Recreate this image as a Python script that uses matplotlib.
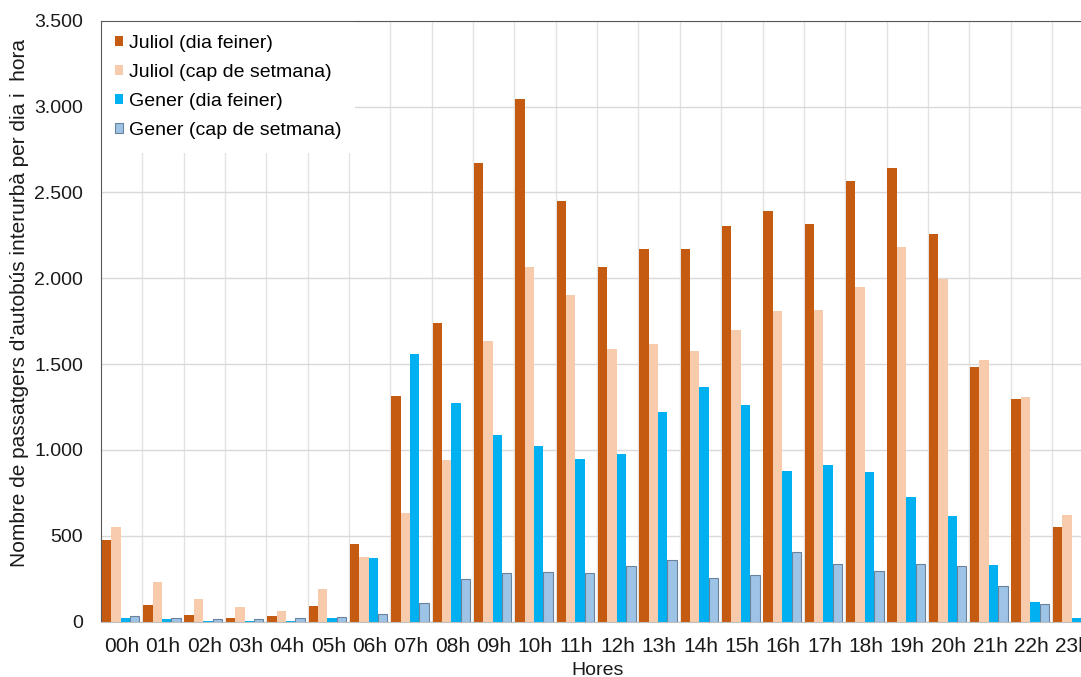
import matplotlib.pyplot as plt
from matplotlib.ticker import FuncFormatter, MultipleLocator
import numpy as np

plt.rcParams['font.family'] = ['Liberation Sans', 'DejaVu Sans']

# passatgers per hora, dia feiner i cap de setmana, juliol i gener
hores = ['%02dh' % h for h in range(24)]
juliol_feiner = [476, 97, 39, 23, 33, 91, 452, 1315, 1738, 2673, 3046, 2448,
                 2064, 2169, 2171, 2303, 2392, 2314, 2567, 2642, 2258, 1485, 1297, 550]
juliol_cap = [553, 229, 132, 84, 64, 189, 377, 631, 940, 1637, 2068, 1904,
              1586, 1615, 1577, 1699, 1810, 1813, 1949, 2182, 1996, 1524, 1308, 620]
gener_feiner = [20, 14, 3, 3, 5, 20, 372, 1557, 1274, 1087, 1025, 948,
                979, 1221, 1367, 1264, 876, 912, 874, 726, 614, 330, 113, 22]
gener_cap = [35, 23, 14, 14, 20, 25, 44, 107, 250, 282, 291, 285,
             323, 361, 256, 272, 404, 336, 295, 336, 323, 206, 103, 30]

series = [
    ('Juliol (dia feiner)', juliol_feiner, '#C55A11', 'none'),
    ('Juliol (cap de setmana)', juliol_cap, '#F8CBAD', 'none'),
    ('Gener (dia feiner)', gener_feiner, '#00B0F0', 'none'),
    ('Gener (cap de setmana)', gener_cap, '#9DC3E6', '#6A829C'),
]

fig = plt.figure(figsize=(10.81, 6.77), dpi=100)
ax = fig.add_axes([0.0934, 0.0817, 0.918, 0.8877])

x = np.arange(len(hores))
w = 0.227
for k, (nom, vals, col, edge) in enumerate(series):
    ax.bar(x - 0.5 + 0.02 + k * w, vals, width=w, align='edge', color=col,
           edgecolor=edge, linewidth=0.8 if edge != 'none' else 0, label=nom, zorder=3)

ax.set_xlim(-0.5, 23.5)
ax.set_ylim(0, 3500)
ax.yaxis.set_major_locator(MultipleLocator(500))
ax.yaxis.set_major_formatter(FuncFormatter(lambda v, p: '{:,.0f}'.format(v).replace(',', '.')))
ax.set_xticks(x)
ax.set_xticklabels(hores)
ax.set_xticks(np.arange(0.5, 23.5, 1), minor=True)

ax.grid(axis='y', which='major', color='#D9D9D9', linewidth=1, zorder=0)
ax.grid(axis='x', which='minor', color='#E3E3E3', linewidth=1, zorder=0)
ax.tick_params(axis='both', which='both', length=0, labelcolor='#1a1a1a')
ax.tick_params(axis='y', pad=13, labelsize=14)
ax.tick_params(axis='x', pad=11, labelsize=15)

ax.spines['right'].set_visible(False)
ax.spines['left'].set_color('#595959')
ax.spines['top'].set_color('#595959')
ax.spines['bottom'].set_color('#BFBFBF')
for s in ax.spines.values():
    s.set_zorder(6)

ax.set_xlabel('Hores', fontsize=14, color='#1a1a1a', labelpad=4)
ax.set_ylabel("Nombre de passatgers d'autobús interurbà per dia i  hora",
              fontsize=15, color='#1a1a1a')
ax.yaxis.set_label_coords(-0.073, 0.53)

leg = ax.legend(loc='upper left', bbox_to_anchor=(0.0, 1.0), fontsize=14,
                frameon=True, fancybox=False, edgecolor='none', facecolor='white',
                framealpha=1, handlelength=0.42, handleheight=0.42,
                handletextpad=0.3, labelspacing=0.62, borderpad=0.72, borderaxespad=0)
leg.set_zorder(5)

fig.savefig('out.png', dpi=100)
